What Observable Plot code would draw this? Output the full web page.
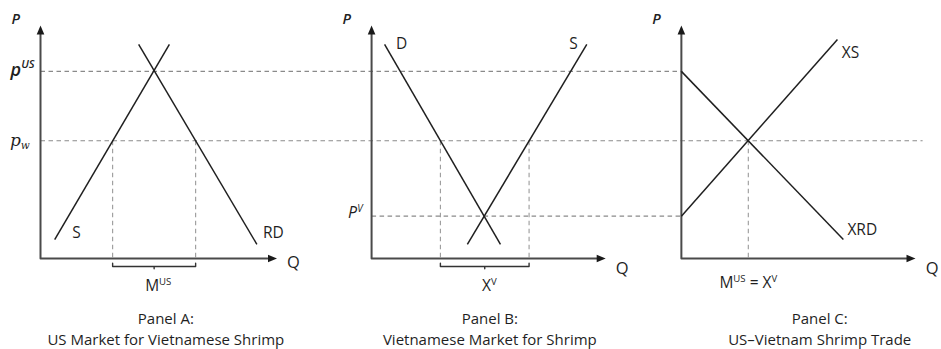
<!DOCTYPE html>
<html><head><meta charset="utf-8">
<script src="https://cdn.jsdelivr.net/npm/d3@7"></script>
<script src="https://cdn.jsdelivr.net/npm/@observablehq/plot@0.6"></script>
<style>body{margin:0;background:#fff;} svg{display:block}</style>
</head><body><div id="chart"></div>
<script>
// ---- data (quantity Q and price P in abstract units) ----
const panels = ["A", "B", "C"];
const panelOffset = [0, 14, 27.1];            // origin of each panel along the shared Q scale
const panelTitle = ["Panel A:", "Panel B:", "Panel C:"];
const panelSubtitle = ["US Market for Vietnamese Shrimp", "Vietnamese Market for Shrimp", "US\u2013Vietnam Shrimp Trade"];

const priceNames = ["p^{US}", "p_{w}", "P^{V}"];
const prices = [7.95, 5, 1.8];                // p^US, p_w, P^V

// straight-line schedules: panel index, endpoints (q, p)
const curveNames = ["S", "RD", "D", "S", "XS", "XRD"];
const curvePanel = [0, 0, 1, 1, 2, 2];
const curveQ1 = [0.6, 4.15, 0.55, 4.05, 0, 0];
const curveP1 = [0.8, 9.1, 9.1, 0.6, 1.8, 7.95];
const curveQ2 = [5.45, 9.15, 5.45, 9.1, 6.6, 6.85];
const curveP2 = [9.1, 0.6, 0.6, 9.1, 9.3, 0.81];

// quantities read at the world price p_w in each panel
const qLowAtPw = [3.05, 2.91, 2.83];
const qHighAtPw = [6.56, 6.66, null];
const tradeLabels = ["M^{US}", "X^{V}", "M^{US} = X^{V}"];

// ---- derived tables ----
const curves = curveNames.map((name, i) => ({
  name, x1: panelOffset[curvePanel[i]] + curveQ1[i], y1: curveP1[i],
  x2: panelOffset[curvePanel[i]] + curveQ2[i], y2: curveP2[i]
}));
const pEnd = [panelOffset[2], 37.3, panelOffset[2]];
const pStart = [panelOffset[0], panelOffset[0], panelOffset[1]];
const hDash = prices.map((p, i) => ({x1: pStart[i], x2: pEnd[i], y: p}));
const vDash = [];
panels.forEach((_, i) => {
  vDash.push({x: panelOffset[i] + qLowAtPw[i], y: prices[1]});
  if (qHighAtPw[i] != null) vDash.push({x: panelOffset[i] + qHighAtPw[i], y: prices[1]});
});
const braces = [];
[0, 1].forEach(i => {
  const a = panelOffset[i] + qLowAtPw[i], b = panelOffset[i] + qHighAtPw[i], m = (a + b) / 2;
  [[a, -0.2], [a, -0.34], [m, -0.34], [m, -0.44], [m, -0.34], [b, -0.34], [b, -0.2]]
    .forEach(([x, y]) => braces.push({panel: i, x, y}));
});
const axes = [];
panelOffset.forEach((o, i) => {
  [[o, 9.7], [o, 0], [o + 9.6, 0]].forEach(([x, y]) => axes.push({panel: i, x, y}));
});
const arrowTipX = [10, 9.9, 9.9];
const arrowsY = panelOffset.map(o => ({x: o, y: 9.9}));
const arrowsX = panelOffset.map((o, i) => ({x: o + arrowTipX[i], y: 0}));
const titles = panelTitle.map((t, i) => t + "\n" + panelSubtitle[i]);

const arrowHead = {draw(ctx) { ctx.moveTo(0, 0); ctx.lineTo(-3.8, 9); ctx.lineTo(3.8, 9); ctx.closePath(); }};

const ink = "#1f1f1f";
const font = "Open Sans";

const chart = Plot.plot({
  width: 941, height: 349,
  marginLeft: 40, marginRight: 26, marginTop: 25, marginBottom: 91,
  x: {domain: [0, 37], axis: null},
  y: {domain: [0, 9.9], axis: null},
  style: {fontFamily: font, background: "white", color: ink, overflow: "visible"},
  marks: [
    // dashed guides
    Plot.link(hDash, {x1: "x1", x2: "x2", y1: "y", y2: "y", stroke: "#8a8a8a", strokeWidth: 1.1, strokeDasharray: "4.5,3.5"}),
    Plot.link(vDash, {x1: "x", x2: "x", y1: "y", y2: 0, stroke: "#9a9a9a", strokeWidth: 1.1, strokeDasharray: "4.5,3.5"}),
    // axes
    Plot.line(axes, {x: "x", y: "y", z: "panel", stroke: "#4a4a4a", strokeWidth: 2, curve: "linear"}),
    Plot.dot(arrowsY, {x: "x", y: "y", symbol: arrowHead, r: 3, fill: "#1a1a1a", stroke: "none"}),
    Plot.dot(arrowsX, {x: "x", y: "y", symbol: arrowHead, r: 3, fill: "#1a1a1a", stroke: "none", rotate: 90}),
    // schedules
    Plot.link(curves, {x1: "x1", y1: "y1", x2: "x2", y2: "y2", stroke: ink, strokeWidth: 1.5}),
    // braces
    Plot.line(braces, {x: "x", y: "y", z: "panel", stroke: "#333", strokeWidth: 1.4}),
    // axis titles
    Plot.text(panelOffset, {x: d => d - 1.05, y: 10.15, text: () => "P", fontStyle: "italic", fontWeight: 600, fontSize: 14.5, fill: ink}),
    Plot.text(panelOffset, {x: (d, i) => d + arrowTipX[i] + 0.7, y: [-0.2, -0.45, -0.45], text: () => "Q", fontSize: 16.5, fill: ink}),
    // price labels
    Plot.text([0], {x: -0.25, y: prices[0] + 0.05, text: [priceNames[0]], textAnchor: "end", fontStyle: "italic", fontSize: 18, fontWeight: 600, fill: ink}),
    Plot.text([0], {x: -0.45, y: prices[1] + 0.02, text: [priceNames[1]], textAnchor: "end", fontStyle: "italic", fontFamily: "DejaVu Serif", fontSize: 17, fill: ink}),
    Plot.text([0], {x: panelOffset[1] - 0.38, y: prices[2] + 0.12, text: [priceNames[2]], textAnchor: "end", fontStyle: "italic", fontSize: 16, fill: ink}),
    // curve labels
    Plot.text(curves, {
      x: (d, i) => panelOffset[curvePanel[i]] + [1.52, 9.85, 1.27, 8.54, 7.15, 7.65][i],
      y: [1.1, 1.1, 9.1, 9.1, 8.75, 1.19], text: "name", fontSize: 15.5, fill: ink
    }),
    // trade labels
    Plot.text(tradeLabels, {
      x: (d, i) => panelOffset[i] + [4.98, 4.98, 2.83][i],
      y: [-1.19, -1.19, -1.06], text: d => d, fontSize: 15.5, fill: ink
    }),
    // panel titles (two lines each)
    Plot.text(titles, {x: (d, i) => panelOffset[i] + [5.3, 5.0, 5.85][i], y: -2.95, text: d => d, fontSize: 15, lineHeight: 1.37, fill: ink})
  ]
});

// superscript / subscript rendering for labels like "p^{US}" and "p_{w}"
function richText(svg) {
  svg.querySelectorAll("text").forEach(el => {
    const s = el.textContent;
    if (!/[\^_]\{/.test(s)) return;
    const holder = el.closest("[font-size]");
    const fs = holder ? parseFloat(holder.getAttribute("font-size")) : 14;
    const parts = s.split(/([\^_]\{[^}]*\})/);
    el.textContent = "";
    let shift = 0;
    for (const part of parts) {
      if (!part) continue;
      const ts = document.createElementNS("http://www.w3.org/2000/svg", "tspan");
      let target = 0, small = false, txt = part;
      if (part.startsWith("^{")) { target = -0.42 * fs; small = true; txt = part.slice(2, -1); }
      else if (part.startsWith("_{")) { target = 0.18 * fs; small = true; txt = part.slice(2, -1); }
      ts.setAttribute("dy", target - shift);
      shift = target;
      if (small) ts.setAttribute("font-size", 0.62 * fs);
      ts.textContent = txt;
      el.appendChild(ts);
    }
  });
}
richText(chart);
document.getElementById("chart").appendChild(chart);
</script></body></html>
